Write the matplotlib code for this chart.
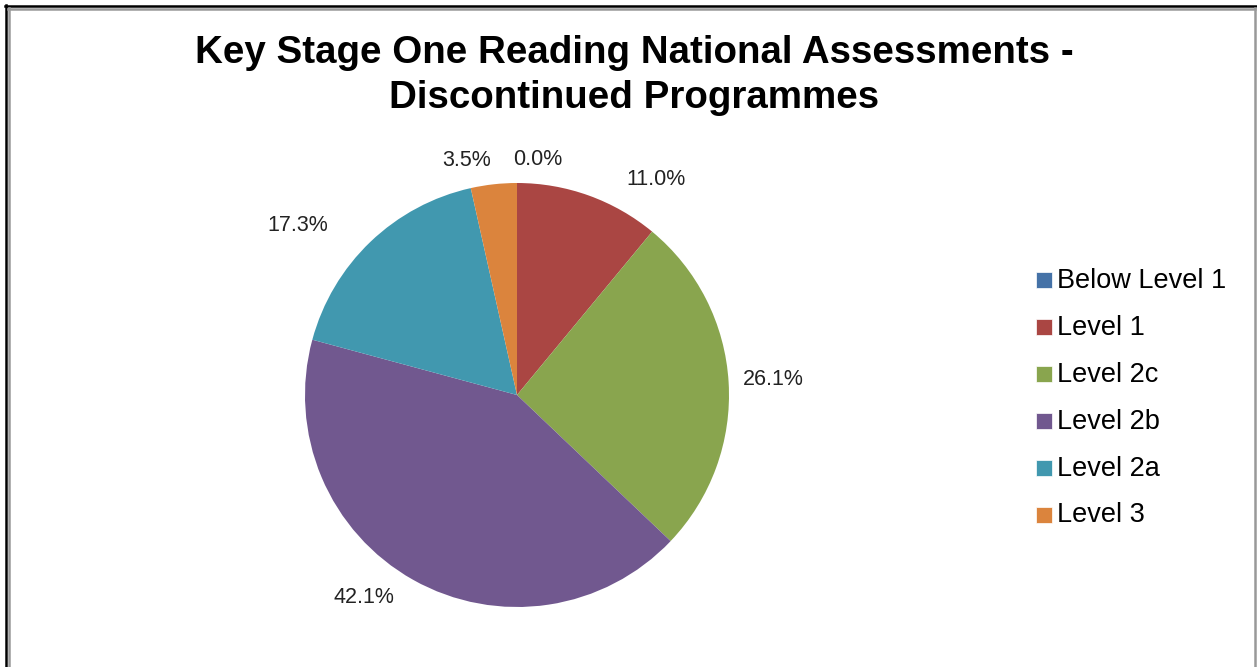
import numpy as np
import matplotlib.pyplot as plt
from matplotlib.patches import Rectangle
from matplotlib.lines import Line2D

plt.rcParams['font.family'] = ['Liberation Sans', 'DejaVu Sans']

categories = ['Below Level 1', 'Level 1', 'Level 2c', 'Level 2b', 'Level 2a', 'Level 3']
shares = [0.0, 11.0, 26.1, 42.1, 17.3, 3.5]
colors = ['#4572A7', '#AA4643', '#89A54E', '#71588F', '#4198AF', '#DB843D']

# where each percentage sits: (angle in degrees, distance in pie radii)
label_polar = [(84.9, 1.113), (57.1, 1.208), (3.4, 1.209),
               (232.9, 1.195), (142.3, 1.31), (102.2, 1.133)]

W, H = 1257, 667
fig = plt.figure(figsize=(W / 100, H / 100), dpi=100)

# pie axes: centre (517, 395) px, radius 212 px
cx, cy, r = 517, 395, 212
ax = fig.add_axes([(cx - r) / W, (H - cy - r) / H, 2 * r / W, 2 * r / H])
ax.pie(shares, colors=colors, startangle=90, counterclock=False,
       wedgeprops=dict(linewidth=0))
ax.set_xlim(-1, 1)
ax.set_ylim(-1, 1)
ax.set_aspect('equal')
ax.axis('off')

for val, (ang, dist) in zip(shares, label_polar):
    a = np.deg2rad(ang)
    ax.text(dist * np.cos(a), dist * np.sin(a), f'{val:.1f}%',
            ha='center', va='center', fontsize=15.5, color='#222222')

fig.text(634 / W, 1 - 53 / H, 'Key Stage One Reading National Assessments -',
         ha='center', va='center', fontsize=27.7, fontweight='bold')
fig.text(634 / W, 1 - 98 / H, 'Discontinued Programmes',
         ha='center', va='center', fontsize=27.7, fontweight='bold')

# legend drawn by hand
step = 46.9
for i, (lab, col) in enumerate(zip(categories, colors)):
    base = 288 + i * step
    fig.add_artist(Rectangle((1036 / W, 1 - base / H), 16 / W, 16 / H,
                             transform=fig.transFigure, facecolor=col,
                             edgecolor='white', linewidth=0.5))
    fig.text(1057 / W, 1 - base / H, lab, ha='left', va='baseline',
             fontsize=19.5, color='black')

# outer frame: dark top/left rule with a grey rule inside it
def hline(y, x0, x1, c, lw):
    fig.add_artist(Line2D([x0 / W, x1 / W], [1 - y / H, 1 - y / H],
                          transform=fig.transFigure, color=c, linewidth=lw))

def vline(x, y0, y1, c, lw):
    fig.add_artist(Line2D([x / W, x / W], [1 - y0 / H, 1 - y1 / H],
                          transform=fig.transFigure, color=c, linewidth=lw))

hline(5.5, 5, W, 'black', 1.8)
vline(6, 5, H, 'black', 1.8)
hline(8.5, 8, 1255, '#999999', 1.8)
vline(9, 8, H, '#999999', 1.8)
vline(1255, 8, H, '#999999', 1.8)

fig.savefig('out.png', dpi=100)
